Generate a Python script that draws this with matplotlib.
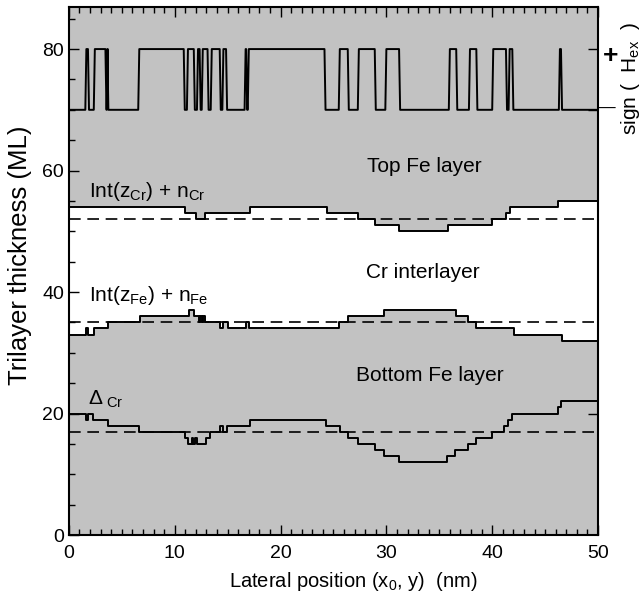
import numpy as np
import matplotlib
matplotlib.use('Agg')
import matplotlib.pyplot as plt
from matplotlib.ticker import MultipleLocator

plt.rcParams['font.family'] = ['Liberation Sans', 'DejaVu Sans']
plt.rcParams['mathtext.fontset'] = 'custom'
plt.rcParams['mathtext.rm'] = 'Liberation Sans'
plt.rcParams['mathtext.it'] = 'Liberation Sans:italic'

# -----------------------------------------------------------------------------
# Data
# -----------------------------------------------------------------------------
# sign(H_ex): intervals (nm) where the exchange field is positive
sgn_high = [(1.6, 1.85), (2.4, 3.5), (3.62, 3.68), (6.6, 10.9), (11.2, 11.85),
            (12.15, 12.4), (12.6, 13.15), (13.45, 14.3), (14.55, 14.9),
            (16.65, 16.8), (16.95, 24.2), (25.55, 26.4), (27.35, 28.95),
            (29.95, 31.25), (35.95, 36.65), (37.85, 38.55), (40.05, 41.35),
            (41.6, 41.95), (46.35, 46.55)]
sgn_lo, sgn_hi = 70, 80

# Int(z_Cr) + n_Cr : top Fe / Cr interface (step starts, ML)
top_x = [0, 10.95, 12.05, 12.85, 17.15, 24.4, 27.3, 28.9, 31.2, 35.8, 40.0,
         41.3, 41.7, 46.25]
top_n = [54, 53, 52, 53, 54, 53, 52, 51, 50, 51, 52, 53, 54, 55]

# Int(z_Fe) + n_Fe : Cr / bottom Fe interface
mid_x = [0, 1.65, 1.85, 2.4, 3.7, 6.7, 11.35, 11.85, 12.25, 12.4, 12.55, 12.7,
         12.85, 14.25, 14.6, 15.0, 16.75, 17.05, 25.5, 26.4, 29.8, 36.6, 37.75,
         38.5, 42.1, 46.55]
mid_n = [33, 34, 33, 34, 35, 36, 37, 36, 35, 36, 35, 36, 35, 34, 35, 34, 35,
         34, 35, 36, 37, 36, 35, 34, 33, 32]

# Delta_Cr
bot_x = [0, 1.65, 1.85, 2.3, 3.7, 6.6, 10.95, 11.25, 11.6, 11.75, 11.95, 12.1,
         12.95, 13.3, 14.25, 14.55, 14.9, 17.1, 24.3, 25.65, 26.4, 27.3, 28.9,
         29.8, 31.2, 35.75, 36.5, 37.7, 38.5, 40.0, 41.15, 41.5, 41.9, 46.2, 46.5]
bot_n = [20, 19, 20, 19, 18, 17, 16, 15, 16, 15, 16, 15, 16, 17, 18, 17, 18,
         19, 18, 17, 16, 15, 14, 13, 12, 13, 14, 15, 16, 17, 18, 19, 20, 21, 22]

# mean levels (dashed)
mean_top, mean_mid, mean_bot = 52, 35, 17

x_end = 50


# -----------------------------------------------------------------------------
# Functions
# -----------------------------------------------------------------------------
def steps(xs, ns, x_end):
    # expand step starts into polyline vertices
    px, py = [], []
    bounds = list(xs[1:]) + [x_end]
    for x0, x1, n in zip(xs, bounds, ns):
        px += [x0, x1]
        py += [n, n]
    return np.array(px), np.array(py)


def pulses(intervals, lo, hi, x_end, ramp=0.1):
    px, py = [0], [lo]
    for a, b in intervals:
        px += [a - ramp / 2, a + ramp / 2, b - ramp / 2, b + ramp / 2]
        py += [lo, hi, hi, lo]
    px.append(x_end)
    py.append(lo)
    return np.array(px), np.array(py)


# -----------------------------------------------------------------------------
# Plot
# -----------------------------------------------------------------------------
fig = plt.figure(figsize=(6.44, 5.96), dpi=100)
ax = fig.add_axes([0.107, 0.1023, 0.8216, 0.8857])
ax.set_facecolor('#c2c2c2')

tx, ty = steps(top_x, top_n, x_end)
mx, my = steps(mid_x, mid_n, x_end)
bx, by = steps(bot_x, bot_n, x_end)
sx, sy = pulses(sgn_high, sgn_lo, sgn_hi, x_end)

# Cr interlayer is white
ax.fill(np.concatenate([tx, mx[::-1]]), np.concatenate([ty, my[::-1]]),
        color='white', lw=0, zorder=1)

for xx, yy in [(tx, ty), (mx, my), (bx, by), (sx, sy)]:
    ax.plot(xx, yy, color='k', lw=1.4, zorder=3)

for m in [mean_top, mean_mid, mean_bot]:
    ax.axhline(m, color='k', lw=1.2, ls=(0, (7, 4)), zorder=2)

ax.set_xlim(0, 50)
ax.set_ylim(0, 86.9)
ax.xaxis.set_major_locator(MultipleLocator(10))
ax.xaxis.set_minor_locator(MultipleLocator(1))
ax.yaxis.set_major_locator(MultipleLocator(20))
ax.yaxis.set_minor_locator(MultipleLocator(5))
ax.tick_params(which='both', direction='in', top=True, right=False,
               labelsize=14, width=1)
ax.tick_params(axis='x', pad=7)
ax.tick_params(which='major', length=7)
ax.tick_params(which='minor', length=4)
for s in ax.spines.values():
    s.set_linewidth(1.5)

ax.set_xlabel(r'Lateral position (x$_0$, y)  (nm)', fontsize=14.5)
ax.xaxis.set_label_coords(0.537, -0.066)
ax.set_ylabel('Trilayer thickness (ML)', fontsize=18.5)
ax.yaxis.set_label_coords(-0.07, 0.53)

# right side: sign of exchange field
ax2 = ax.twinx()
ax2.set_ylim(ax.get_ylim())
ax2.set_yticks([20, 70, 80])
ax2.set_yticklabels([])
ax2.tick_params(direction='in', length=7, width=1)
for s in ax2.spines.values():
    s.set_visible(False)
ax.text(51.2, 78.8, '+', fontsize=19, fontweight='bold', ha='center',
        va='center', clip_on=False)
ax.text(50.9, 70.3, '\u2014', fontsize=12, ha='center', va='center',
        clip_on=False)
fig.text(0.979, 0.869, r'sign (  H$_{\rm ex}$  )', rotation=90, fontsize=15,
         ha='center', va='center')

# layer labels
ax.text(28.2, 60.6, 'Top Fe layer', fontsize=15, va='center', zorder=4)
ax.text(28.1, 43.3, 'Cr interlayer', fontsize=15, va='center', zorder=4)
ax.text(27.1, 26.3, 'Bottom Fe layer', fontsize=15, va='center', zorder=4)
ax.text(1.9, 56.6, r'Int(z$_{\rm Cr}$) + n$_{\rm Cr}$', fontsize=15,
        va='center', zorder=4)
ax.text(1.9, 39.4, r'Int(z$_{\rm Fe}$) + n$_{\rm Fe}$', fontsize=15,
        va='center', zorder=4)
ax.text(1.8, 22.3, r'$\Delta_{\rm\ Cr}$', fontsize=15, va='center', zorder=4)

plt.savefig('out.png', dpi=100)
